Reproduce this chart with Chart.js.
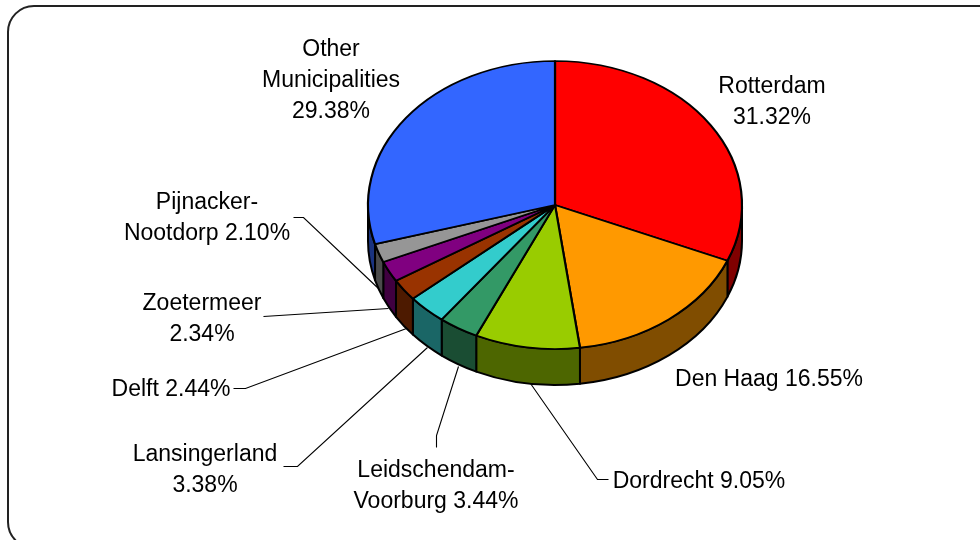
<!DOCTYPE html>
<html>
<head>
<meta charset="utf-8">
<script src="https://cdn.jsdelivr.net/npm/chart.js@4"></script>
<style>
  html, body { margin: 0; background: #fff; }
  canvas { display: block; }
</style>
</head>
<body>
<canvas id="pie" width="980" height="540"></canvas>
<script>
const categories = [
  "Rotterdam",
  "Den Haag",
  "Dordrecht",
  "Leidschendam-Voorburg",
  "Lansingerland",
  "Delft",
  "Zoetermeer",
  "Pijnacker-Nootdorp",
  "Other Municipalities",
];
const shares = [31.32, 16.55, 9.05, 3.44, 3.38, 2.44, 2.34, 2.1, 29.38];
const faceColors = ["#ff0000", "#ff9900", "#99cc00", "#339966", "#33cccc", "#993300", "#800080", "#969696", "#3366ff"];
const wallColors = ["#800000", "#804d00", "#4d6600", "#1a4d33", "#1a6666", "#4d1a00", "#400040", "#4b4b4b", "#1a3380"];

const labelLines = [
  ["Rotterdam", "31.32%"],
  ["Den Haag 16.55%"],
  ["Dordrecht 9.05%"],
  ["Leidschendam-", "Voorburg 3.44%"],
  ["Lansingerland", "3.38%"],
  ["Delft 2.44%"],
  ["Zoetermeer", "2.34%"],
  ["Pijnacker-", "Nootdorp 2.10%"],
  ["Other", "Municipalities", "29.38%"],
];
const labelSpots = [[772, 87], [769, 380], [699, 482], [436, 471], [205, 455], [171, 390], [202, 304], [207, 203], [331, 50]];
const leaders = [
  null,
  null,
  [[608, 479], [597, 479], [530, 383]],
  [[436, 447], [436, 435], [458, 366]],
  [[283, 466], [297, 466], [427, 347]],
  [[233, 388], [245, 388], [406, 328]],
  [[263, 316], [388, 308]],
  [[293, 217], [303, 217], [379, 289]],
  null,
];

const tilt = 0.77;
const depth = 36;

const pie3d = {
  id: "pie3d",
  beforeDraw(chart) {
    const c = chart.ctx;
    c.save();
    c.strokeStyle = "#222";
    c.lineWidth = 2;
    c.beginPath();
    c.roundRect(8, 6, 1000, 542, 26);
    c.stroke();

    c.save();
    c.translate(0.5, 0.5);
    c.strokeStyle = "#000";
    c.lineWidth = 1.1;
    leaders.forEach((pts) => {
      if (!pts) return;
      c.beginPath();
      pts.forEach((p, i) => (i ? c.lineTo(p[0], p[1]) : c.moveTo(p[0], p[1])));
      c.stroke();
    });
    c.restore();

    c.fillStyle = "#000";
    c.font = '23px "Liberation Sans", Arial, sans-serif';
    c.textAlign = "center";
    c.textBaseline = "middle";
    labelLines.forEach((lines, i) => {
      lines.forEach((txt, j) => c.fillText(txt, labelSpots[i][0], labelSpots[i][1] + j * 31));
    });
    c.restore();
  },
  // side walls, only the front half of the rim shows
  beforeDatasetsDraw(chart) {
    const c = chart.ctx;
    c.save();
    c.strokeStyle = "#000";
    c.lineWidth = 2;
    c.lineJoin = "round";
    chart.getDatasetMeta(0).data.forEach((arc, i) => {
      const a = Math.max(arc.startAngle, 0);
      const b = Math.min(arc.endAngle, Math.PI);
      if (b <= a) return;
      const r = arc.outerRadius;
      c.fillStyle = wallColors[i];
      c.beginPath();
      c.ellipse(arc.x, arc.y, r, r * tilt, 0, a, b);
      c.ellipse(arc.x, arc.y + depth, r, r * tilt, 0, b, a, true);
      c.closePath();
      c.fill();
      c.stroke();
    });
    c.restore();
  },
  beforeDatasetDraw(chart) {
    const arc = chart.getDatasetMeta(0).data[0];
    const c = chart.ctx;
    c.save();
    c.translate(arc.x, arc.y);
    c.scale(1, tilt);
    c.translate(-arc.x, -arc.y);
  },
  afterDatasetDraw(chart) {
    chart.ctx.restore();
  },
};

new Chart(document.getElementById("pie").getContext("2d"), {
  type: "pie",
  data: {
    labels: categories,
    datasets: [
      {
        data: shares,
        backgroundColor: faceColors,
        borderColor: "#000",
        borderWidth: 2.2,
        borderJoinStyle: "round",
        radius: 187,
      },
    ],
  },
  options: {
    responsive: false,
    animation: false,
    layout: {
      padding: { left: 368, right: 238, top: 18, bottom: 148 },
    },
    plugins: {
      legend: { display: false },
      tooltip: { enabled: false },
    },
  },
  plugins: [pie3d],
});
</script>
</body>
</html>
